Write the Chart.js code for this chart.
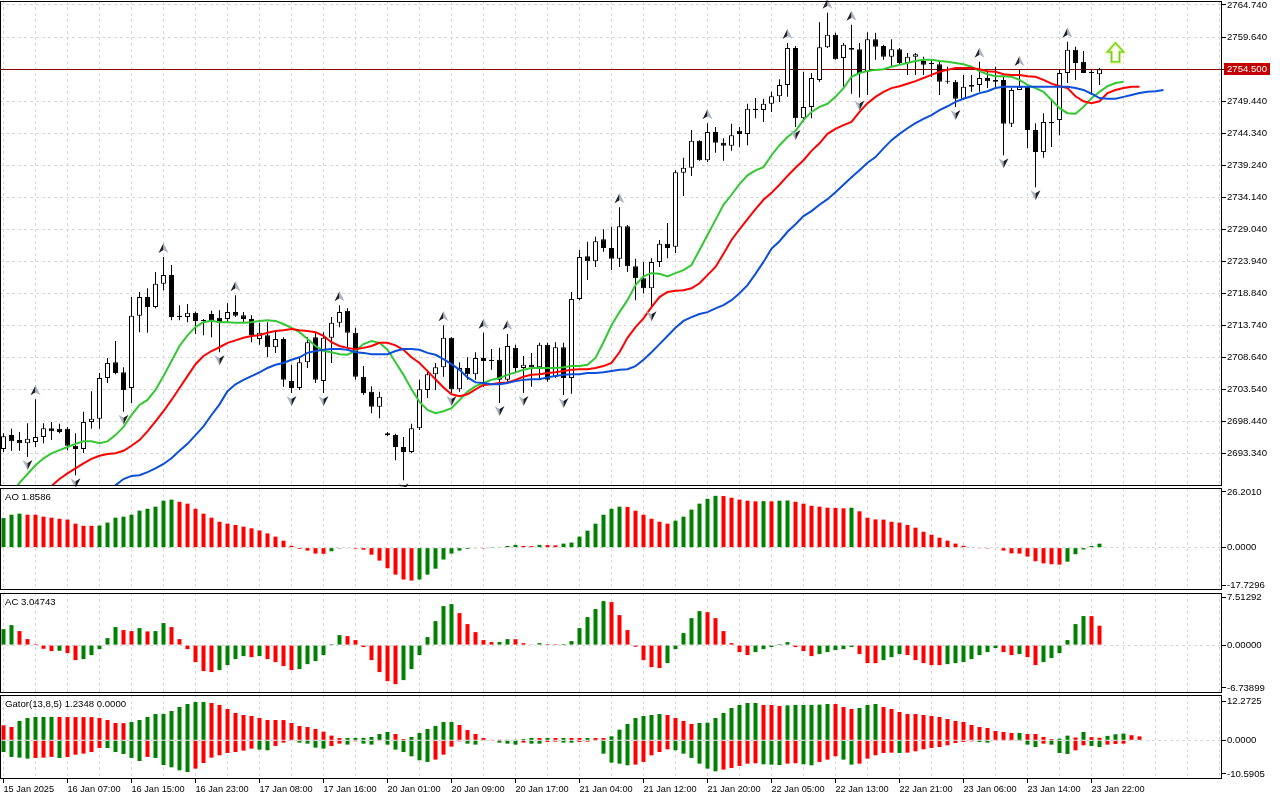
<!DOCTYPE html>
<html>
<head>
<meta charset="utf-8">
<title>XAUUSD H1 - Alligator, AO, AC, Gator</title>
<script src="https://cdn.jsdelivr.net/npm/chart.js@4.4.1/dist/chart.umd.min.js"></script>
<style>
  html, body { margin: 0; padding: 0; background: #fff; }
  .pane { position: absolute; left: 0; width: 1280px; }
</style>
</head>
<body>
<div class="pane" style="top:0;height:487px"><canvas id="main"></canvas></div>
<div class="pane" style="top:487px;height:104px"><canvas id="ao"></canvas></div>
<div class="pane" style="top:591px;height:103px"><canvas id="ac"></canvas></div>
<div class="pane" style="top:694px;height:106px"><canvas id="gator"></canvas></div>
<script>
// ---- data (hourly bars, bar 0 = 15 Jan 2025 23:00) ----
const xTickLabels = ['15 Jan 2025', '16 Jan 07:00', '16 Jan 15:00', '16 Jan 23:00', '17 Jan 08:00', '17 Jan 16:00',
  '20 Jan 01:00', '20 Jan 09:00', '20 Jan 17:00', '21 Jan 04:00', '21 Jan 12:00', '21 Jan 20:00',
  '22 Jan 05:00', '22 Jan 13:00', '22 Jan 21:00', '23 Jan 06:00', '23 Jan 14:00', '23 Jan 22:00'];

const priceTicks = [2764.74, 2759.64, 2754.54, 2749.44, 2744.34, 2739.24, 2734.14, 2729.04,
  2723.94, 2718.84, 2713.74, 2708.64, 2703.54, 2698.44, 2693.34];
const aoTicks = [26.2010, 0, -17.7296];
const acTicks = [7.51292, 0, -6.73899];
const gatorTicks = [12.2725, 0, -10.5905];

const opens = [
  2694.0, 2696.2, 2695.4, 2694.9, 2695.1, 2695.9, 2697.3, 2697.2, 2697.2, 2694.5,
  2694.0, 2698.3, 2698.8, 2705.3, 2707.8, 2706.2, 2703.7, 2715.2, 2718.2, 2716.6,
  2720.3, 2721.7, 2715.2, 2715.0, 2715.7, 2714.5, 2715.5, 2714.9, 2714.7, 2715.8,
  2715.3, 2714.7, 2711.5, 2712.1, 2710.2, 2711.5, 2704.8, 2703.7, 2707.8, 2711.8,
  2704.8, 2711.7, 2714.1, 2716.0, 2712.5, 2705.5, 2703.1, 2700.7, 2696.5, 2696.2,
  2694.3, 2693.5, 2697.3, 2703.4, 2705.9, 2707.0, 2711.7, 2703.5, 2706.9, 2705.9,
  2708.5, 2708.2, 2708.2, 2705.0, 2710.1, 2706.9, 2707.4, 2707.0, 2710.6, 2705.5,
  2710.2, 2705.3, 2717.9, 2724.7, 2723.9, 2727.4, 2726.0, 2724.3, 2729.5, 2723.1,
  2721.2, 2719.6, 2723.8, 2726.7, 2726.2, 2738.0, 2738.8, 2743.1, 2740.0, 2744.5,
  2742.8, 2742.3, 2744.7, 2744.2, 2748.2, 2748.0, 2749.0, 2750.2, 2752.0, 2757.9,
  2746.7, 2748.5, 2752.8, 2758.0, 2760.0, 2756.3, 2757.9, 2757.7, 2754.1, 2759.3,
  2758.2, 2756.5, 2757.7, 2755.5, 2756.5, 2755.8, 2755.5, 2755.3, 2752.6, 2752.5,
  2749.8, 2751.7, 2752.0, 2753.1, 2752.8, 2752.8, 2745.8, 2751.2, 2751.7, 2744.8,
  2741.3, 2745.9, 2746.4, 2753.9, 2757.6, 2755.7, 2754.1, 2753.7];
const highs = [
  2696.5, 2697.2, 2696.7, 2698.1, 2701.9, 2698.1, 2698.3, 2698.0, 2697.5, 2696.5,
  2699.9, 2703.2, 2706.1, 2708.5, 2711.2, 2707.0, 2718.2, 2719.0, 2719.6, 2722.2,
  2724.6, 2723.3, 2716.9, 2717.1, 2715.9, 2714.7, 2716.0, 2716.1, 2717.2, 2718.5,
  2715.8, 2715.3, 2714.1, 2714.2, 2712.9, 2711.8, 2707.4, 2708.5, 2711.8, 2712.5,
  2712.6, 2715.0, 2716.9, 2716.4, 2713.3, 2707.2, 2704.0, 2703.1, 2696.7, 2696.4,
  2695.9, 2698.0, 2705.0, 2706.6, 2707.7, 2713.7, 2711.8, 2707.8, 2708.6, 2709.4,
  2712.5, 2709.9, 2710.1, 2712.3, 2710.6, 2708.8, 2709.3, 2710.9, 2710.9, 2711.0,
  2710.9, 2719.0, 2725.7, 2727.0, 2727.8, 2729.0, 2729.4, 2732.5, 2729.7, 2724.3,
  2723.8, 2724.4, 2727.3, 2730.0, 2738.4, 2740.4, 2744.8, 2743.2, 2745.9, 2745.3,
  2743.5, 2745.8, 2745.3, 2749.0, 2749.9, 2749.8, 2750.9, 2752.9, 2758.7, 2758.2,
  2754.1, 2753.9, 2762.0, 2763.5, 2760.3, 2758.7, 2761.6, 2758.7, 2760.4, 2760.3,
  2758.4, 2759.3, 2757.9, 2757.1, 2757.1, 2756.5, 2756.0, 2755.8, 2754.9, 2752.8,
  2753.6, 2753.6, 2755.7, 2754.1, 2754.9, 2753.4, 2751.5, 2754.4, 2751.7, 2745.9,
  2747.5, 2749.6, 2754.5, 2758.9, 2758.1, 2757.4, 2754.4, 2754.7];
const lows = [
  2693.5, 2693.7, 2693.7, 2692.7, 2694.3, 2694.9, 2695.4, 2696.5, 2693.8, 2689.8,
  2693.3, 2697.2, 2697.2, 2704.5, 2705.9, 2699.9, 2701.3, 2712.6, 2712.5, 2716.4,
  2719.3, 2714.5, 2714.5, 2714.2, 2712.3, 2712.1, 2711.8, 2709.4, 2714.2, 2715.0,
  2714.2, 2711.0, 2710.6, 2708.6, 2709.3, 2703.9, 2702.9, 2703.4, 2706.9, 2704.5,
  2702.9, 2707.7, 2713.4, 2710.2, 2705.0, 2702.6, 2699.7, 2698.9, 2696.0, 2692.2,
  2689.0, 2693.3, 2697.0, 2702.1, 2703.4, 2705.5, 2702.9, 2703.1, 2705.0, 2705.0,
  2703.9, 2706.6, 2701.3, 2704.7, 2706.1, 2702.9, 2703.9, 2705.0, 2704.7, 2705.3,
  2702.6, 2702.8, 2717.7, 2720.9, 2723.0, 2725.4, 2722.5, 2723.0, 2722.2, 2717.7,
  2718.8, 2716.4, 2723.0, 2724.4, 2725.2, 2734.3, 2737.5, 2739.9, 2739.7, 2741.2,
  2739.9, 2741.5, 2742.1, 2742.4, 2746.7, 2746.1, 2747.7, 2749.3, 2750.1, 2745.3,
  2746.1, 2746.7, 2752.5, 2757.9, 2756.0, 2751.7, 2750.6, 2750.0, 2750.4, 2756.0,
  2756.0, 2754.9, 2755.2, 2753.6, 2753.6, 2753.6, 2753.3, 2750.4, 2752.2, 2748.5,
  2749.6, 2750.9, 2750.9, 2751.5, 2751.5, 2740.8, 2745.3, 2751.2, 2741.9, 2735.7,
  2740.4, 2742.1, 2744.0, 2752.3, 2752.8, 2753.9, 2750.4, 2752.0];
const closes = [
  2696.0, 2695.2, 2694.9, 2695.6, 2695.9, 2697.3, 2696.8, 2696.7, 2694.5, 2694.0,
  2698.3, 2698.8, 2705.3, 2707.7, 2706.1, 2703.4, 2715.2, 2718.2, 2716.6, 2720.3,
  2721.7, 2715.0, 2715.0, 2715.7, 2714.4, 2714.4, 2714.4, 2714.2, 2715.8, 2715.2,
  2714.7, 2712.1, 2712.5, 2710.2, 2711.5, 2705.0, 2703.7, 2707.8, 2711.0, 2705.0,
  2711.7, 2714.1, 2715.8, 2712.5, 2705.5, 2702.9, 2700.7, 2702.3, 2696.2, 2694.3,
  2693.5, 2697.3, 2703.5, 2705.9, 2707.0, 2711.7, 2703.5, 2706.9, 2705.9, 2708.5,
  2708.0, 2708.0, 2705.0, 2710.4, 2706.9, 2707.4, 2707.0, 2710.6, 2705.0, 2710.2,
  2705.3, 2717.9, 2724.6, 2723.9, 2727.1, 2726.0, 2724.3, 2729.5, 2723.1, 2721.2,
  2719.6, 2723.8, 2726.7, 2726.0, 2738.1, 2738.8, 2743.1, 2740.0, 2744.5, 2742.8,
  2742.3, 2744.0, 2744.2, 2748.2, 2748.0, 2749.0, 2750.2, 2752.0, 2757.9, 2746.7,
  2748.5, 2753.1, 2758.0, 2760.0, 2756.1, 2758.4, 2757.6, 2753.9, 2759.3, 2758.1,
  2756.5, 2757.7, 2755.5, 2756.5, 2756.9, 2755.2, 2755.3, 2752.5, 2752.5, 2749.8,
  2751.7, 2752.0, 2753.1, 2752.6, 2752.5, 2745.8, 2751.2, 2751.7, 2744.8, 2741.3,
  2746.1, 2746.1, 2753.9, 2757.6, 2755.5, 2753.9, 2753.9, 2754.5];

// Alligator lines (already shifted forward), first bar index given separately
const lipsStart = 1;
const lips = [
  2686.6, 2688.6, 2690.0, 2691.4, 2692.5, 2693.3, 2693.8, 2694.3, 2694.8, 2695.2,
  2695.2, 2694.9, 2695.2, 2696.2, 2697.5, 2699.4, 2701.0, 2701.8, 2703.4, 2705.6,
  2708.0, 2710.4, 2712.1, 2713.4, 2714.2, 2714.4, 2714.2, 2714.2, 2714.1, 2714.1,
  2714.2, 2714.4, 2714.5, 2714.4, 2713.9, 2713.3, 2712.6, 2711.5, 2710.4, 2709.6,
  2709.4, 2709.1, 2709.0, 2709.6, 2710.7, 2711.2, 2710.9, 2709.8, 2707.8, 2705.8,
  2703.5, 2701.5, 2700.2, 2699.7, 2700.0, 2700.5, 2701.8, 2703.1, 2704.0, 2704.5,
  2705.0, 2705.3, 2705.8, 2706.2, 2706.6, 2706.9, 2706.9, 2706.9, 2706.9, 2707.0,
  2707.2, 2707.2, 2707.4, 2708.5, 2711.0, 2713.7, 2715.8, 2717.7, 2720.1, 2721.5,
  2722.0, 2721.9, 2721.5, 2722.0, 2722.5, 2723.3, 2725.7, 2728.1, 2730.5, 2732.9,
  2734.5, 2736.2, 2737.6, 2738.4, 2738.9, 2740.8, 2742.4, 2743.7, 2744.7, 2746.4,
  2747.7, 2748.5, 2749.0, 2750.1, 2751.5, 2753.3, 2753.9, 2754.2, 2754.4, 2754.5,
  2754.9, 2755.2, 2755.5, 2755.8, 2756.0, 2756.0, 2755.8, 2755.7, 2755.5, 2755.3,
  2754.9, 2754.2, 2753.7, 2753.4, 2753.4, 2753.3, 2752.8, 2752.0, 2751.5, 2750.9,
  2749.6, 2748.3, 2747.5, 2747.4, 2748.5, 2749.9, 2750.9, 2751.8, 2752.3, 2752.5];
const teethStart = 5;
const teeth = [
  2687.1, 2688.1, 2689.2, 2690.1, 2690.9,
  2691.7, 2692.4, 2692.9, 2693.2, 2693.3, 2693.7, 2694.5, 2695.4, 2696.8, 2698.4,
  2700.0, 2701.8, 2703.7, 2705.6, 2707.5, 2708.8, 2709.6, 2710.2, 2710.9, 2711.3,
  2711.7, 2712.0, 2712.1, 2712.5, 2712.8, 2712.9, 2713.1, 2712.9, 2712.8, 2712.6,
  2712.0, 2711.0, 2710.4, 2710.1, 2709.9, 2710.1, 2710.4, 2710.9, 2710.9, 2710.5,
  2709.8, 2708.6, 2707.7, 2706.4, 2705.1, 2703.8, 2702.7, 2702.4, 2702.7, 2703.5,
  2704.2, 2704.3, 2704.5, 2704.6, 2705.0, 2705.5, 2705.8, 2705.9, 2706.1, 2706.2,
  2706.4, 2706.6, 2706.7, 2706.7, 2706.9, 2707.2, 2707.7, 2709.4, 2711.7, 2713.4,
  2714.8, 2716.6, 2718.2, 2719.0, 2719.2, 2719.3, 2719.6, 2720.4, 2721.7, 2723.0,
  2725.1, 2727.3, 2729.0, 2730.6, 2732.2, 2733.7, 2734.8, 2736.1, 2737.5, 2738.8,
  2740.0, 2741.5, 2742.7, 2744.2, 2745.0, 2745.6, 2746.1, 2747.7, 2749.1, 2750.1,
  2750.9, 2751.5, 2751.8, 2752.2, 2752.6, 2753.1, 2753.6, 2754.1, 2754.4, 2754.7,
  2754.7, 2754.7, 2754.5, 2754.2, 2754.1, 2753.7, 2753.6, 2753.6, 2753.4, 2753.3,
  2752.8, 2752.2, 2751.8, 2751.5, 2750.2, 2749.4, 2749.1, 2749.4, 2750.7, 2751.2,
  2751.5, 2751.7, 2751.7];
const jawStart = 13;
const jaw = [
  2687.1, 2688.2, 2689.2, 2689.7, 2689.8, 2690.3, 2690.9,
  2691.6, 2692.5, 2693.7, 2694.8, 2696.2, 2697.6, 2699.4, 2701.1, 2703.2, 2704.3,
  2705.0, 2705.6, 2706.2, 2706.9, 2707.4, 2707.7, 2708.2, 2708.6, 2709.3, 2709.6,
  2709.8, 2709.9, 2709.9, 2709.8, 2709.4, 2709.3, 2709.1, 2709.1, 2709.1, 2709.6,
  2709.9, 2709.9, 2709.8, 2709.3, 2709.0, 2708.3, 2707.5, 2706.6, 2705.4, 2704.6,
  2704.5, 2704.3, 2704.3, 2704.5, 2704.8, 2705.0, 2705.1, 2705.1, 2705.4, 2705.6,
  2705.8, 2705.9, 2705.9, 2706.1, 2706.1, 2706.2, 2706.4, 2706.6, 2706.7, 2707.2,
  2708.2, 2709.4, 2710.7, 2712.0, 2713.3, 2714.4, 2715.0, 2715.5, 2715.8, 2716.4,
  2716.9, 2717.7, 2718.8, 2720.1, 2721.9, 2723.8, 2725.9, 2727.1, 2728.6, 2729.8,
  2731.1, 2731.9, 2732.9, 2733.8, 2734.9, 2736.1, 2737.3, 2738.4, 2739.6, 2740.5,
  2741.9, 2743.2, 2744.2, 2745.1, 2745.9, 2746.6, 2747.2, 2748.0, 2748.6, 2749.3,
  2749.8, 2750.2, 2750.7, 2751.0, 2751.5, 2751.7, 2751.7, 2751.7, 2751.7, 2751.7,
  2751.7, 2751.7, 2751.7, 2751.7, 2751.5, 2751.2, 2750.6, 2749.9, 2749.8, 2749.8,
  2750.1, 2750.4, 2750.7, 2750.9, 2751.0, 2751.2];

const upFractals = [4, 20, 29, 42, 55, 60, 63, 77, 88, 98, 103, 106, 122, 127, 133];
const downFractals = [3, 9, 15, 27, 36, 40, 50, 56, 62, 65, 70, 81, 99, 107, 119, 125, 129];
const buySignal = { bar: 139, price: 2757.1 };

const aoValues = [
  13.9, 15.5, 16.0, 15.5, 15.5, 14.6, 14.1, 13.6, 13.2, 11.3,
  10.3, 10.3, 10.4, 11.8, 14.1, 14.6, 15.5, 17.4, 18.3, 19.3,
  22.1, 22.6, 21.6, 20.7, 18.3, 16.0, 14.1, 12.2, 11.3, 10.7,
  9.9, 9.1, 8.1, 6.7, 5.2, 3.3, 0.9, -0.6, -1.4, -2.8,
  -2.9, -1.7, -0.4, -0.3, -0.5, -1.0, -3.3, -6.1, -9.7, -12.7,
  -15.0, -15.5, -15.0, -12.7, -9.9, -5.6, -2.8, -1.4, -0.6, -0.3,
  -0.4, 0.1, 0.3, 0.8, 1.3, 0.8, 0.7, 1.3, 1.2, 1.1,
  1.9, 2.4, 5.2, 8.0, 11.3, 15.5, 18.3, 19.3, 19.2, 17.4,
  15.5, 13.6, 12.2, 11.3, 12.7, 14.6, 17.9, 20.7, 23.0, 24.4,
  24.3, 23.5, 22.6, 22.1, 21.8, 21.9, 21.8, 22.1, 22.2, 21.6,
  20.7, 19.7, 19.3, 18.8, 18.7, 18.5, 18.8, 17.1, 14.1, 13.3,
  13.2, 12.2, 11.8, 10.7, 9.4, 7.5, 6.1, 4.7, 3.3, 1.9,
  0.9, 0.2, -0.3, -0.4, -0.2, -1.4, -2.7, -2.8, -4.2, -6.4,
  -7.4, -7.8, -8.0, -6.6, -3.1, -0.9, 0.8, 1.8586];

const acValues = [
  2.51, 3.14, 2.20, 0.94, 0.16, -0.58, -0.94, -0.89, -1.26, -2.36,
  -2.20, -1.57, -0.63, 1.10, 2.83, 2.36, 2.20, 2.67, 2.15, 2.20,
  3.46, 2.83, 0.94, -0.63, -2.67, -4.08, -4.24, -3.93, -3.14, -2.20,
  -1.73, -1.89, -1.73, -2.20, -2.67, -3.30, -3.93, -3.77, -2.99, -2.51,
  -1.57, 0.16, 1.57, 1.41, 0.79, -0.31, -2.36, -4.24, -5.66, -6.13,
  -5.50, -3.77, -1.57, 1.26, 3.77, 6.13, 6.44, 5.03, 3.30, 2.04,
  0.79, 0.47, 0.48, 0.94, 0.93, 0.31, 0.05, 0.31, 0.16, 0.15,
  0.17, 0.63, 2.67, 4.40, 5.66, 6.91, 6.76, 4.71, 2.36, -0.26,
  -2.36, -3.46, -3.61, -2.83, -0.63, 1.89, 4.24, 5.34, 5.18, 4.24,
  2.20, 0.31, -1.10, -1.57, -1.10, -0.63, -0.31, 0.16, 0.47, -0.31,
  -0.94, -1.73, -1.41, -1.10, -0.79, -0.63, -0.31, -1.41, -2.83, -2.84,
  -2.36, -1.89, -1.41, -1.57, -2.36, -2.83, -3.14, -3.15, -2.99, -2.83,
  -2.67, -2.20, -1.57, -1.10, -0.47, -1.10, -1.57, -1.41, -1.89, -3.14,
  -2.67, -2.04, -1.26, 0.79, 3.30, 4.56, 4.55, 3.04743];

const gatorUpper = [
  4.72, 4.19, 6.08, 7.02, 7.34, 7.35, 7.36, 7.33, 7.32, 7.31,
  7.30, 7.29, 7.02, 6.39, 5.45, 5.40, 5.76, 6.39, 7.34, 8.28,
  8.30, 9.22, 10.48, 11.42, 12.05, 12.06, 11.74, 11.11, 9.85, 8.59,
  7.96, 7.65, 7.02, 6.39, 6.38, 6.37, 5.45, 4.51, 4.19, 3.56,
  2.72, 1.47, 0.73, 0.75, 0.76, 0.78, 1.05, 1.99, 2.62, 1.99,
  0.42, 1.05, 2.31, 3.56, 4.51, 5.76, 5.77, 4.82, 3.25, 1.99,
  0.73, 0.10, 0.05, 0.21, 0.22, 0.42, 0.73, 0.72, 0.73, 0.72,
  0.73, 0.72, 0.71, 0.73, 0.72, 0.71, 1.26, 3.35, 5.14, 7.02,
  7.65, 7.96, 8.28, 7.96, 7.02, 6.08, 5.14, 5.45, 5.55, 7.02,
  8.59, 10.17, 11.11, 11.74, 11.75, 11.11, 11.10, 10.79, 11.00, 11.11,
  11.12, 11.13, 11.21, 11.42, 11.41, 10.48, 9.85, 10.17, 11.11, 11.42,
  10.48, 9.85, 8.91, 8.28, 8.27, 7.96, 7.65, 7.34, 6.71, 6.08,
  5.76, 4.82, 4.19, 3.88, 2.93, 2.62, 2.31, 2.32, 1.99, 1.98,
  1.05, 0.42, 0.52, 1.47, 0.90, 2.62, 1.00, 0.80, 1.40, 1.90,
  2.10, 1.60, 1.2348];
const gatorLower = [
  -3.67, -5.24, -5.45, -5.76, -5.55, -5.45, -5.24, -5.55, -5.24, -4.51,
  -4.19, -3.67, -2.41, -2.42, -3.67, -4.30, -5.55, -6.50, -5.24, -5.55,
  -7.76, -8.49, -9.43, -9.96, -8.91, -7.13, -5.45, -4.72, -3.98, -3.67,
  -3.25, -2.62, -2.93, -3.14, -1.78, -0.73, -0.21, -0.73, -1.05, -2.31,
  -2.62, -1.78, -1.05, -1.36, -0.31, -1.05, -1.36, -0.21, -1.36, -2.93,
  -3.67, -5.03, -6.29, -6.81, -6.08, -4.51, -1.99, -0.31, -1.05, -1.36,
  -0.21, -0.10, -0.73, -1.05, -1.36, -0.73, -1.05, -1.06, -0.52, -0.42,
  -0.73, -0.74, -0.52, -0.42, -0.21, -4.19, -7.02, -7.34, -7.86, -7.65,
  -6.81, -4.72, -3.67, -2.83, -3.14, -4.19, -5.55, -7.34, -8.91, -9.75,
  -9.22, -8.70, -8.07, -7.34, -7.23, -7.55, -7.65, -7.76, -7.34, -7.23,
  -7.55, -7.86, -6.81, -6.08, -5.03, -6.08, -7.65, -7.34, -5.76, -4.72,
  -3.98, -3.88, -3.98, -3.88, -3.46, -2.83, -2.41, -2.10, -1.57, -0.84,
  -0.52, -0.31, -0.52, -0.73, -0.21, -0.10, -0.09, -0.08, -1.36, -2.10,
  -1.05, -1.36, -3.98, -4.30, -3.14, -1.57, -1.78, -2.10, -1.36, -1.15,
  -1.05];

// ---- look ----
const GREEN = '#008000', RED = '#ff0000', GRID = '#d9d9d9', NONE = 'rgba(0,0,0,0)';
const FONT = '"Liberation Sans", Arial, sans-serif';
Chart.defaults.font.family = FONT;
Chart.defaults.font.size = 9;
Chart.defaults.color = '#000';
Chart.defaults.animation = false;
Chart.defaults.plugins.legend.display = false;
Chart.defaults.plugins.tooltip.enabled = false;

// bar i sits at 3.5 + 8*i px, plot area 0..1222 px
const X_MIN = -0.4375, X_MAX = 152.3125;
const gridBars = [];
for (let b = 0; b <= 152; b += 4) gridBars.push(b);

function xAxis(withLabels) {
  return {
    type: 'linear', min: X_MIN, max: X_MAX, offset: false,
    afterBuildTicks: s => { s.ticks = gridBars.map(v => ({ value: v })); },
    afterFit: s => { s.height = withLabels ? 21 : 0; s.paddingLeft = 0; s.paddingRight = 0; },
    ticks: {
      display: withLabels, autoSkip: false, maxRotation: 0, minRotation: 0, align: 'start', padding: 1,
      font: { size: 9.2 },
      callback: v => (v % 8 === 0 && xTickLabels[v / 8]) || ''
    },
    grid: {
      offset: false, color: GRID, drawTicks: withLabels, tickLength: 4,
      tickColor: ctx => (ctx.tick && ctx.tick.value % 8 === 0 && xTickLabels[ctx.tick.value / 8]) ? '#000' : NONE
    },
    border: { display: false, dash: [3, 3] }
  };
}

function yAxis(min, max, tickValues, decimals, allLines) {
  return {
    position: 'right', min, max, beginAtZero: false,
    afterBuildTicks: s => { s.ticks = tickValues.map(v => ({ value: v })); },
    afterFit: s => { s.width = 58; s.paddingTop = 0; s.paddingBottom = 0; },
    ticks: { autoSkip: false, padding: 1, font: { size: 9.6 }, callback: v => Number(v).toFixed(decimals) },
    grid: {
      color: allLines ? GRID : (ctx => (ctx.tick && ctx.tick.value === 0) ? GRID : NONE),
      tickColor: '#000', tickLength: 4
    },
    border: { display: false, dash: [3, 3] }
  };
}

const frame = {
  id: 'frame',
  afterDraw(c) {
    const a = c.chartArea, g = c.ctx;
    g.save();
    g.strokeStyle = '#000';
    g.lineWidth = 1;
    g.strokeRect(Math.floor(a.left) + 0.5, Math.floor(a.top) + 0.5,
      Math.round(a.right - a.left) - 1, Math.round(a.bottom - a.top) - 1);
    g.restore();
  }
};

function panelLabel(text) {
  return {
    id: 'panelLabel',
    afterDraw(c) {
      const g = c.ctx;
      g.save();
      g.font = '9.6px ' + FONT;
      g.fillStyle = '#000';
      g.textBaseline = 'middle';
      g.fillText(text, c.chartArea.left + 5, c.chartArea.top + 9);
      g.restore();
    }
  };
}

function arrowHead(g, x, y, up) {
  const s = up ? 1 : -1;
  const dark = '#1f1f1f', light = '#a9b3c6';
  g.beginPath(); g.moveTo(x, y - 5 * s); g.lineTo(x - 5, y + 5 * s); g.lineTo(x, y + 2 * s); g.closePath();
  g.fillStyle = up ? dark : light; g.fill();
  g.beginPath(); g.moveTo(x, y - 5 * s); g.lineTo(x + 5, y + 5 * s); g.lineTo(x, y + 2 * s); g.closePath();
  g.fillStyle = up ? light : dark; g.fill();
}

function hollowArrow(g, x, y) {
  g.beginPath();
  g.moveTo(x, y - 10); g.lineTo(x + 8, y - 1); g.lineTo(x + 4, y - 1); g.lineTo(x + 4, y + 9);
  g.lineTo(x - 4, y + 9); g.lineTo(x - 4, y - 1); g.lineTo(x - 8, y - 1); g.closePath();
  g.fillStyle = '#fff'; g.fill();
  g.strokeStyle = '#e4f06a'; g.lineWidth = 3; g.stroke();
  g.strokeStyle = '#5fd33c'; g.lineWidth = 1.3; g.stroke();
}

const lastPrice = closes[closes.length - 1];

const marks = {
  id: 'marks',
  beforeDatasetsDraw(c) {
    const g = c.ctx, a = c.chartArea, y = Math.round(c.scales.y.getPixelForValue(lastPrice)) + 0.5;
    g.save();
    g.strokeStyle = '#8c0000'; g.lineWidth = 1;
    g.beginPath(); g.moveTo(a.left, y); g.lineTo(a.right, y); g.stroke();
    g.restore();
  },
  afterDatasetsDraw(c) {
    const g = c.ctx, xs = c.scales.x, ys = c.scales.y;
    g.save();
    upFractals.forEach(i => arrowHead(g, xs.getPixelForValue(i), ys.getPixelForValue(highs[i]) - 9, true));
    downFractals.forEach(i => arrowHead(g, xs.getPixelForValue(i), ys.getPixelForValue(lows[i]) + 8, false));
    hollowArrow(g, xs.getPixelForValue(buySignal.bar), ys.getPixelForValue(buySignal.price));
    g.restore();
  },
  afterDraw(c) {
    const g = c.ctx, a = c.chartArea, y = c.scales.y.getPixelForValue(lastPrice);
    g.save();
    g.fillStyle = '#c40000';
    g.fillRect(a.right + 2, Math.round(y) - 6, 46, 12);
    g.fillStyle = '#fff';
    g.font = '9.6px ' + FONT;
    g.textBaseline = 'middle';
    g.fillText(lastPrice.toFixed(3), a.right + 5, y);
    g.restore();
  }
};

// ---- main price chart ----
const wickData = highs.map((h, i) => ({ x: i, y: [lows[i], h] }));
const bodyData = opens.map((o, i) => ({ x: i, y: [Math.min(o, closes[i]), Math.max(o, closes[i])] }));
const bodyFill = opens.map((o, i) => closes[i] > o ? '#ffffff' : '#000000');
const linePts = (start, arr) => arr.map((v, k) => ({ x: start + k, y: v }));
const lineSet = (start, arr, color) => ({
  type: 'line', data: linePts(start, arr), borderColor: color, borderWidth: 2,
  pointRadius: 0, fill: false, tension: 0, clip: 0, order: 0
});

new Chart(document.getElementById('main'), {
  type: 'bar',
  data: {
    datasets: [
      { data: wickData, backgroundColor: '#000', borderWidth: 0, barThickness: 1, grouped: false,
        inflateAmount: 0, order: 3 },
      { data: bodyData, backgroundColor: bodyFill, borderColor: '#000', borderWidth: 1, borderSkipped: false,
        barThickness: 5, grouped: false, inflateAmount: 0, minBarLength: 1, order: 2 },
      lineSet(jawStart, jaw, '#0b4fdb'),
      lineSet(teethStart, teeth, '#ff0000'),
      lineSet(lipsStart, lips, '#33c833')
    ]
  },
  options: {
    responsive: true, maintainAspectRatio: false,
    layout: { padding: { top: 1, bottom: 1, left: 0, right: 0 }, autoPadding: false },
    scales: { x: xAxis(false), y: yAxis(2688.087, 2765.377, priceTicks, 3, true) }
  },
  plugins: [marks, frame]
});

// ---- oscillators ----
const riseColors = (vals, first) => vals.map((v, i) => i === 0 ? first : (v > vals[i - 1] ? GREEN : RED));
const absRiseColors = (vals, first) => vals.map((v, i) => i === 0 ? first : (Math.abs(v) > Math.abs(vals[i - 1]) ? GREEN : RED));
const histSet = (vals, colors) => ({
  data: vals.map((v, i) => ({ x: i, y: v })), backgroundColor: colors, borderWidth: 0,
  barThickness: 4, grouped: false, inflateAmount: 0
});

function oscillator(id, datasets, yCfg, label, padding, withLabels) {
  new Chart(document.getElementById(id), {
    type: 'bar',
    data: { datasets },
    options: {
      responsive: true, maintainAspectRatio: false,
      layout: { padding, autoPadding: false },
      scales: { x: xAxis(withLabels), y: yCfg }
    },
    plugins: [frame, panelLabel(label)]
  });
}

oscillator('ao', [histSet(aoValues, riseColors(aoValues, GREEN))],
  yAxis(-19.94, 28.08, aoTicks, 4, false),
  'AO ' + aoValues[aoValues.length - 1].toFixed(4), { top: 1, bottom: 1, left: 0, right: 0 }, false);

oscillator('ac', [histSet(acValues, riseColors(acValues, GREEN))],
  yAxis(-7.525, 8.185, acTicks, 5, false),
  'AC ' + acValues[acValues.length - 1].toFixed(5), { top: 2, bottom: 1, left: 0, right: 0 }, false);

oscillator('gator', [
    histSet(gatorUpper, riseColors(gatorUpper, RED)),
    histSet(gatorLower, absRiseColors(gatorLower, GREEN))
  ],
  yAxis(-12.17, 14.25, gatorTicks, 4, false),
  'Gator(13,8,5) ' + gatorUpper[gatorUpper.length - 1].toFixed(4) + ' 0.0000',
  { top: 1, bottom: 0, left: 0, right: 0 }, true);
</script>
</body>
</html>
